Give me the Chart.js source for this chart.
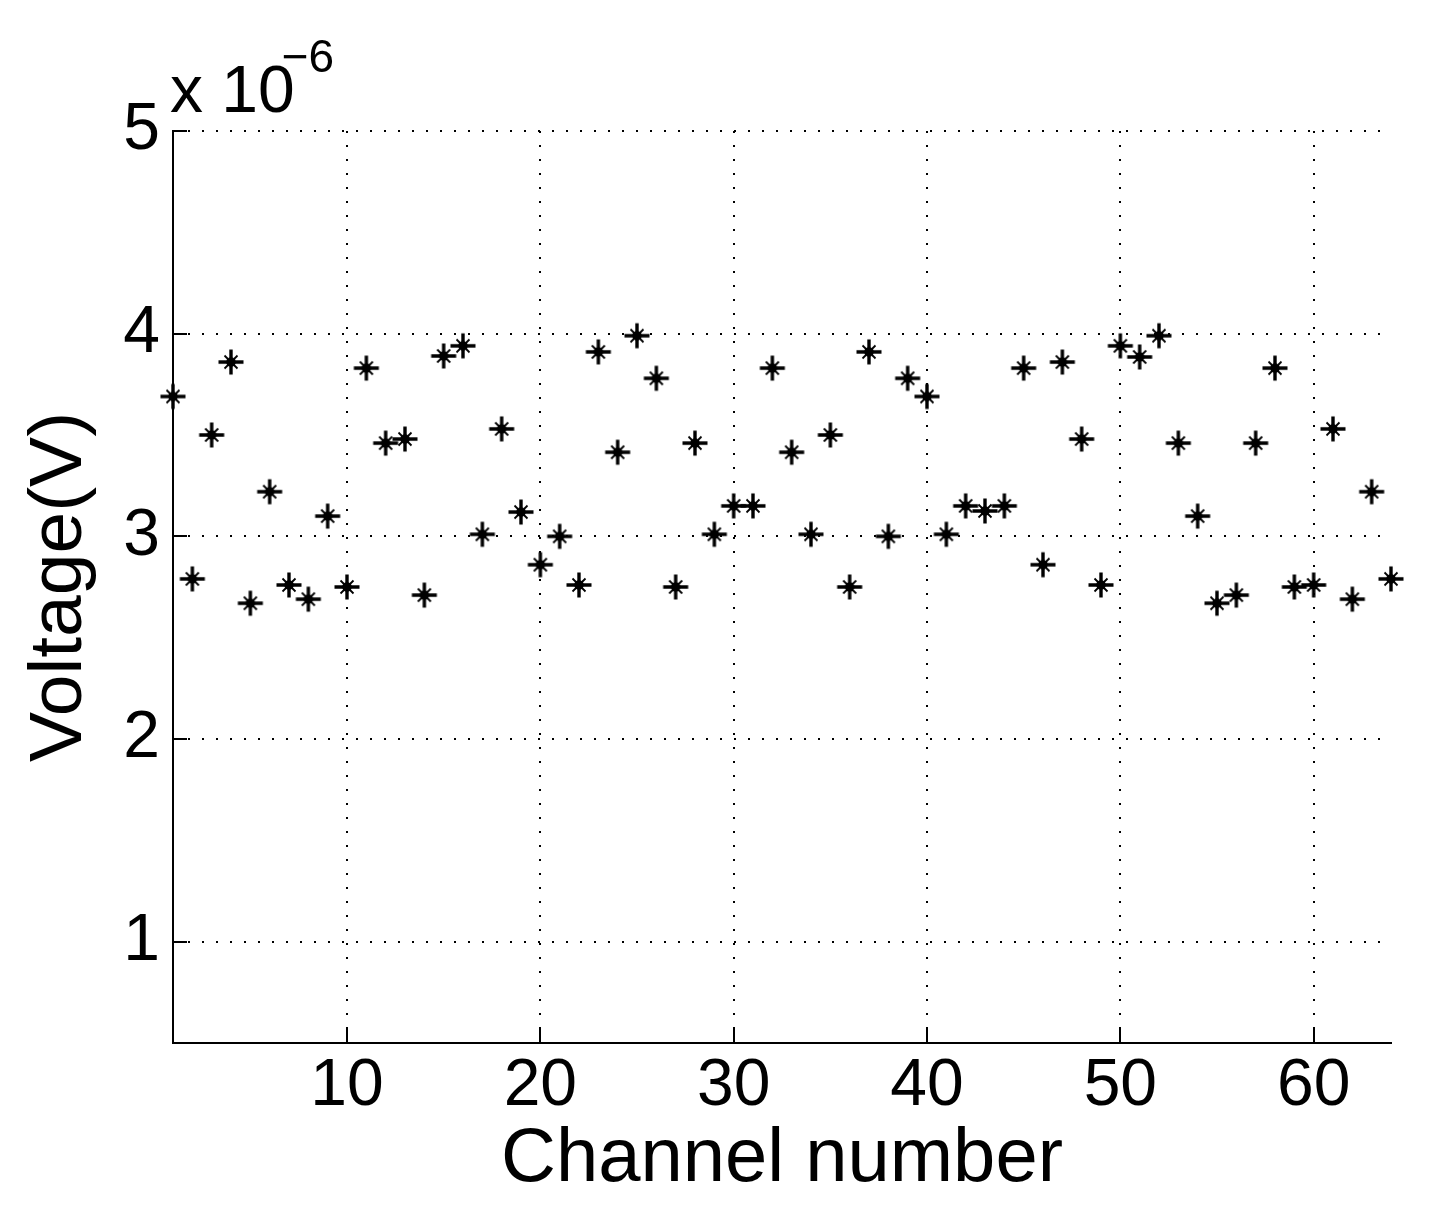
<!DOCTYPE html>
<html>
<head>
<meta charset="utf-8">
<script src="https://cdn.jsdelivr.net/npm/chart.js@4.4.1/dist/chart.umd.min.js"></script>
<style>
  html, body { margin: 0; padding: 0; background: #fff; }
  canvas { display: block; }
</style>
</head>
<body>
<canvas id="voltChart" width="1439" height="1225"></canvas>
<script>
// channel numbers and measured voltage (in units of 1e-6 V)
const channels = [
  1, 2, 3, 4, 5, 6, 7, 8, 9, 10,
  11, 12, 13, 14, 15, 16, 17, 18, 19, 20,
  21, 22, 23, 24, 25, 26, 27, 28, 29, 30,
  31, 32, 33, 34, 35, 36, 37, 38, 39, 40,
  41, 42, 43, 44, 45, 46, 47, 48, 49, 50,
  51, 52, 53, 54, 55, 56, 57, 58, 59, 60,
  61, 62, 63, 64
];
const voltage = [
  3.69, 2.79, 3.50, 3.86, 2.67, 3.22, 2.76, 2.69, 3.10, 2.75,
  3.83, 3.46, 3.48, 2.71, 3.89, 3.94, 3.01, 3.53, 3.12, 2.86,
  3.00, 2.76, 3.91, 3.415, 3.99, 3.78, 2.75, 3.46, 3.01, 3.15,
  3.15, 3.83, 3.415, 3.01, 3.50, 2.75, 3.91, 3.00, 3.78, 3.69,
  3.01, 3.15, 3.125, 3.15, 3.83, 2.86, 3.86, 3.48, 2.76, 3.94,
  3.885, 3.99, 3.46, 3.10, 2.67, 2.71, 3.46, 3.83, 2.75, 2.76,
  3.53, 2.69, 3.22, 2.79
];
const xTicks = [10, 20, 30, 40, 50, 60];
const yTicks = [1, 2, 3, 4, 5];
const xRange = [1, 64];
const yRange = [0.5, 5];
const xTitle = 'Channel number';
const yTitle = 'Voltage(V)';
const expBase = 'x 10';
const expPower = '\u22126';

const FONT = '"Liberation Sans", Arial, Helvetica, sans-serif';

// matlab style '*' marker
function makeAsterisk() {
  const c = document.createElement('canvas');
  c.width = 30; c.height = 30;
  const g = c.getContext('2d');
  const m = 15;
  g.strokeStyle = '#000';
  g.fillStyle = '#000';
  g.lineWidth = 3.4;
  g.beginPath();
  g.moveTo(m - 12.5, m); g.lineTo(m + 12.5, m);
  g.moveTo(m, m - 12.5); g.lineTo(m, m + 12.5);
  g.stroke();
  g.lineWidth = 1.8;
  g.beginPath();
  const d = 6.5;
  g.moveTo(m - d, m - d); g.lineTo(m + d, m + d);
  g.moveTo(m - d, m + d); g.lineTo(m + d, m - d);
  g.stroke();
  g.beginPath();
  g.arc(m, m, 4.8, 0, Math.PI * 2);
  g.fill();
  return c;
}

// inward tick marks + the "x 10^-6" multiplier
const matlabAxes = {
  id: 'matlabAxes',
  afterDraw(chart) {
    const ctx = chart.ctx;
    const area = chart.chartArea;
    const xs = chart.scales.x, ys = chart.scales.y;
    ctx.save();
    ctx.strokeStyle = '#000';
    ctx.lineWidth = 2;
    ctx.beginPath();
    xTicks.forEach(v => {
      const px = Math.round(xs.getPixelForValue(v));
      ctx.moveTo(px, area.bottom);
      ctx.lineTo(px, area.bottom - 14);
    });
    yTicks.forEach(v => {
      const py = Math.round(ys.getPixelForValue(v));
      ctx.moveTo(area.left, py);
      ctx.lineTo(area.left + 14, py);
    });
    ctx.stroke();

    ctx.fillStyle = '#000';
    ctx.textBaseline = 'alphabetic';
    ctx.textAlign = 'left';
    ctx.font = '66px ' + FONT;
    ctx.fillText(expBase, area.left - 3, area.top - 19);
    const w = ctx.measureText(expBase).width;
    ctx.font = '46px ' + FONT;
    ctx.fillText(expPower, area.left - 3 + w - 13, area.top - 59);
    ctx.restore();
  }
};

const points = channels.map((ch, i) => ({ x: ch, y: voltage[i] }));

new Chart(document.getElementById('voltChart').getContext('2d'), {
  type: 'scatter',
  data: {
    datasets: [{
      data: points,
      pointStyle: makeAsterisk(),
      pointRadius: 12,
      clip: false,
      showLine: false
    }]
  },
  options: {
    responsive: false,
    animation: false,
    layout: { padding: { top: 131, right: 48, left: 0, bottom: 0 } },
    plugins: { legend: { display: false }, tooltip: { enabled: false } },
    scales: {
      x: {
        type: 'linear',
        min: xRange[0],
        max: xRange[1],
        afterBuildTicks: s => { s.ticks = xTicks.map(v => ({ value: v })); },
        afterFit: s => { s.height = 182; },
        ticks: {
          color: '#000',
          font: { family: FONT, size: 66, lineHeight: 1 },
          padding: 11,
          maxRotation: 0,
          autoSkip: false
        },
        grid: { color: '#000', lineWidth: 2, drawTicks: false },
        border: { color: '#000', width: 2, dash: [2, 12] },
        title: {
          display: true,
          text: xTitle,
          color: '#000',
          font: { family: FONT, size: 76, lineHeight: 1 },
          padding: { top: 0, bottom: 27 }
        }
      },
      y: {
        type: 'linear',
        min: yRange[0],
        max: yRange[1],
        afterBuildTicks: s => { s.ticks = yTicks.map(v => ({ value: v })); },
        afterFit: s => { s.width = 173; },
        ticks: {
          color: '#000',
          font: { family: FONT, size: 66, lineHeight: 1 },
          padding: 13
        },
        grid: { color: '#000', lineWidth: 2, drawTicks: false },
        border: { color: '#000', width: 2, dash: [2, 12] },
        title: {
          display: true,
          text: yTitle,
          color: '#000',
          font: { family: FONT, size: 75, lineHeight: 1 },
          padding: { top: 23, bottom: 0 }
        }
      }
    }
  },
  plugins: [matlabAxes]
});
</script>
</body>
</html>
